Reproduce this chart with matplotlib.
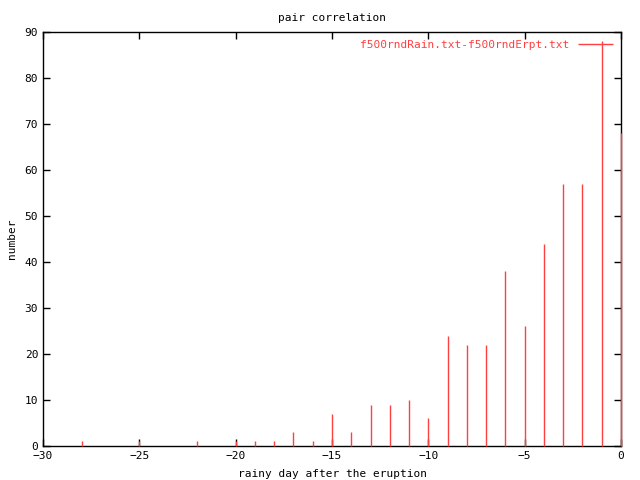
import numpy as np
import matplotlib
matplotlib.use("Agg")
import matplotlib.pyplot as plt

# days relative to the eruption and pair counts
days = [-28, -25, -22, -20, -19, -18, -17, -16, -15, -14, -13, -12,
        -11, -10, -9, -8, -7, -6, -5, -4, -3, -2, -1, 0]
counts = [1, 1, 1, 1, 1, 1, 3, 1, 7, 3, 9, 9,
          10, 6, 24, 22, 22, 38, 26, 44, 57, 57, 88, 68]
xticks = [-30, -25, -20, -15, -10, -5, 0]
yticks = [0, 10, 20, 30, 40, 50, 60, 70, 80, 90]

plt.rcParams['font.family'] = ['DejaVu Sans Mono']
plt.rcParams['font.size'] = 8

fig = plt.figure(figsize=(6.4, 4.8), dpi=100)
ax = fig.add_axes([43/640, 34/480, 578/640, 414/480])

ax.vlines(days, 0, counts, colors='#ff4040', linewidth=1, zorder=3,
          clip_on=False, label='f500rndRain.txt-f500rndErpt.txt')

ax.set_xlim(-30, 0)
ax.set_ylim(0, 90)
ax.set_xticks(xticks)
ax.set_yticks(yticks)
ax.tick_params(direction='in', length=5, top=True, right=True, width=1)
for s in ax.spines.values():
    s.set_linewidth(1)
    s.set_zorder(2.5)

ax.set_title('pair correlation', fontsize=8, pad=8)
ax.set_xlabel('rainy day after the eruption', labelpad=6)
ax.set_ylabel('number', va='center')
ax.yaxis.set_label_coords(-0.054, 0.5)

leg = ax.legend(loc='upper right', frameon=False, markerfirst=False,
                handlelength=3.2, borderaxespad=0.3, fontsize=8)
for t in leg.get_texts():
    t.set_color('#ff4040')

fig.savefig('out.png', dpi=100)
